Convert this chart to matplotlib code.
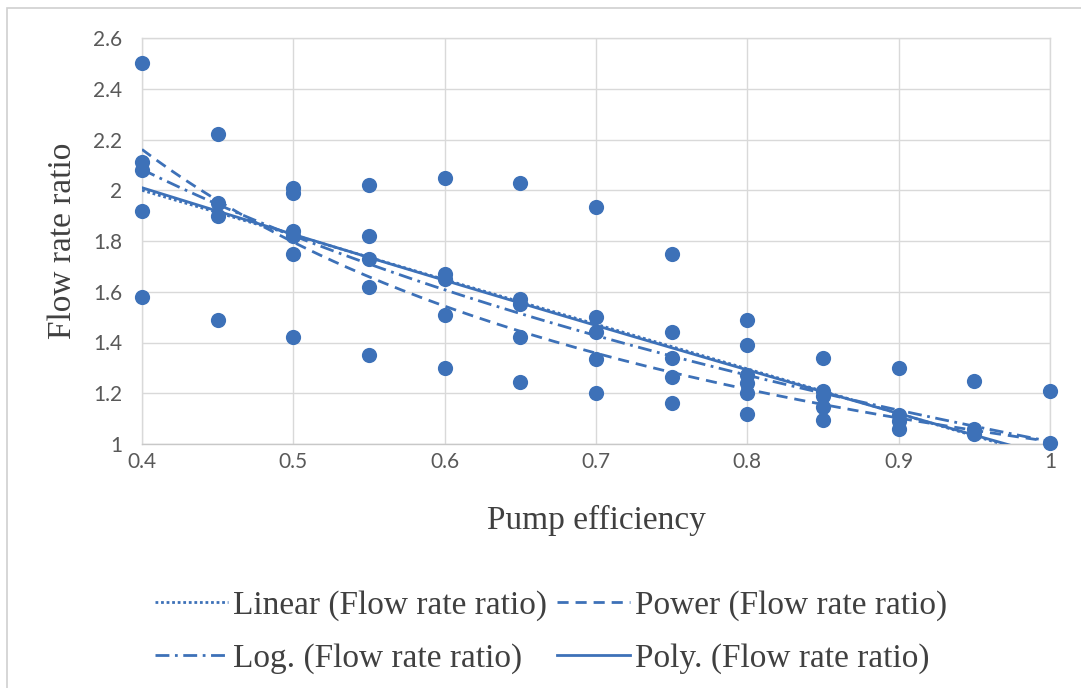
import numpy as np
import matplotlib
matplotlib.use("Agg")
import matplotlib.pyplot as plt
from matplotlib.patches import Rectangle

# measured points
pump_eff = [0.40, 0.40, 0.40, 0.40, 0.40,
            0.45, 0.45, 0.45, 0.45,
            0.50, 0.50, 0.50, 0.50, 0.50, 0.50,
            0.55, 0.55, 0.55, 0.55, 0.55,
            0.60, 0.60, 0.60, 0.60, 0.60,
            0.65, 0.65, 0.65, 0.65, 0.65,
            0.70, 0.70, 0.70, 0.70, 0.70,
            0.75, 0.75, 0.75, 0.75, 0.75,
            0.80, 0.80, 0.80, 0.80, 0.80, 0.80,
            0.85, 0.85, 0.85, 0.85, 0.85,
            0.90, 0.90, 0.90, 0.90,
            0.95, 0.95, 0.95,
            1.00, 1.00]
flow_ratio = [2.50, 2.11, 2.08, 1.92, 1.58,
              2.22, 1.95, 1.90, 1.49,
              2.01, 1.99, 1.84, 1.82, 1.75, 1.42,
              2.02, 1.82, 1.73, 1.62, 1.35,
              2.05, 1.67, 1.65, 1.51, 1.30,
              2.03, 1.57, 1.55, 1.42, 1.245,
              1.935, 1.50, 1.44, 1.335, 1.20,
              1.75, 1.44, 1.34, 1.265, 1.16,
              1.49, 1.39, 1.27, 1.24, 1.20, 1.12,
              1.34, 1.21, 1.19, 1.145, 1.095,
              1.30, 1.115, 1.09, 1.06,
              1.25, 1.06, 1.04,
              1.21, 1.005]

# trend line coefficients
lin_coef = [-1.76, 2.704]            # y = a*x + b
pow_coef = [1.01, -0.83]             # y = a*x**b
log_coef = [-1.17, 1.01]             # y = a*ln(x) + b
poly_coef = [0.15, -1.975, 2.776]    # y = a*x^2 + b*x + c

x_ticks = [0.4, 0.5, 0.6, 0.7, 0.8, 0.9, 1.0]
x_ticklabels = ["0.4", "0.5", "0.6", "0.7", "0.8", "0.9", "1"]
y_ticks = [1.0, 1.2, 1.4, 1.6, 1.8, 2.0, 2.2, 2.4, 2.6]
y_ticklabels = ["1", "1.2", "1.4", "1.6", "1.8", "2", "2.2", "2.4", "2.6"]

blue = "#3d71b8"
grid_gray = "#d9d9d9"
tick_gray = "#595959"
serif = "Liberation Serif"

x = np.array(pump_eff)
y = np.array(flow_ratio)

xs = np.linspace(x.min(), x.max(), 200)
y_lin = np.polyval(lin_coef, xs)
y_pow = pow_coef[0] * xs ** pow_coef[1]
y_log = log_coef[0] * np.log(xs) + log_coef[1]
y_poly = np.polyval(poly_coef, xs)

fig = plt.figure(figsize=(10.81, 6.88), dpi=100)
fig.patch.set_facecolor("white")
fig.patches.append(Rectangle((7 / 1081, -0.05), 1.1, 1 - 8 / 688 + 0.05,
                             transform=fig.transFigure, fill=False,
                             edgecolor="#d0d0d0", linewidth=1.2))

ax = fig.add_axes([142 / 1081, 1 - 444 / 688, 908 / 1081, 406 / 688])

ax.scatter(x, y, s=120, color=blue, zorder=3, linewidths=0, clip_on=False)
h_lin, = ax.plot(xs, y_lin, color=blue, lw=2, ls=(0, (1, 1)), zorder=4)
h_pow, = ax.plot(xs, y_pow, color=blue, lw=2, ls=(0, (4, 2.5)), zorder=4)
h_log, = ax.plot(xs, y_log, color=blue, lw=2, ls=(0, (5, 2, 1, 2)), zorder=4)
h_poly, = ax.plot(xs, y_poly, color=blue, lw=2, ls="-", zorder=4)

ax.set_xlim(0.4, 1.0)
ax.set_ylim(1.0, 2.6)
ax.set_xticks(x_ticks)
ax.set_xticklabels(x_ticklabels)
ax.set_yticks(y_ticks)
ax.set_yticklabels(y_ticklabels)
ax.grid(True, color=grid_gray, lw=1)
ax.set_axisbelow(True)
for s in ax.spines.values():
    s.set_color(grid_gray)
    s.set_linewidth(1)
ax.spines["bottom"].set_color("#c8c8c8")
ax.tick_params(length=0, labelcolor=tick_gray, labelsize=15)
ax.tick_params(axis="x", pad=6)
ax.tick_params(axis="y", pad=14)
for lbl in ax.get_xticklabels() + ax.get_yticklabels():
    lbl.set_family("Lato")

ax.set_xlabel("Pump efficiency", family=serif, fontsize=24, color="#404040")
ax.xaxis.set_label_coords(0.5, -0.15)
ax.set_ylabel("Flow rate ratio", family=serif, fontsize=24, color="#404040")
ax.yaxis.set_label_coords(-0.07, 0.5)

# legend is filled column by column
handles = [h_lin, h_log, h_pow, h_poly]
labels = ["Linear (Flow rate ratio)", "Log. (Flow rate ratio)",
          "Power (Flow rate ratio)", "Poly. (Flow rate ratio)"]
leg = ax.legend(handles, labels, loc="center",
                bbox_to_anchor=(551 / 1081, 1 - 632 / 688),
                bbox_transform=fig.transFigure, ncol=2, frameon=False,
                prop={"family": serif, "size": 24}, handlelength=2.2,
                handletextpad=0.15, columnspacing=0.3, labelspacing=0.68,
                borderpad=0)
for t in leg.get_texts():
    t.set_color("#404040")

fig.savefig("out.png", dpi=100, facecolor="white")
